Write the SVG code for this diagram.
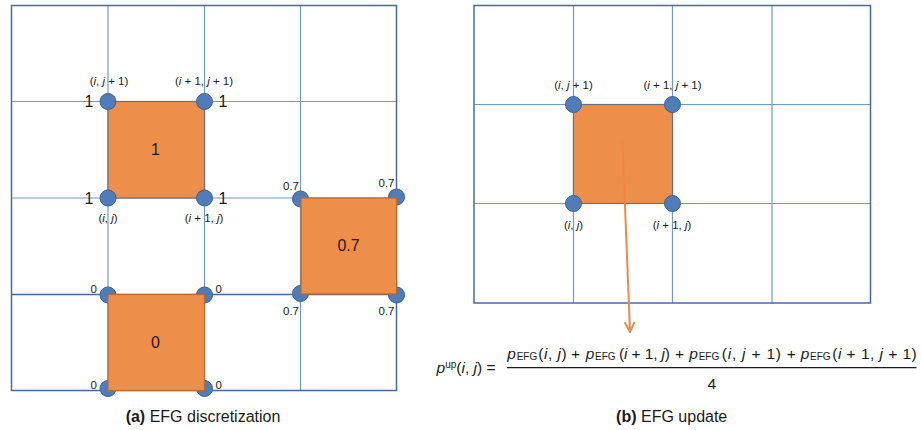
<svg xmlns="http://www.w3.org/2000/svg" width="921" height="430" viewBox="0 0 921 430">
<style>
text{font-family:"Liberation Sans",Arial,sans-serif;fill:#1a1a1a}
.g{stroke:#6f98cf;stroke-width:1.2;fill:none}
.b{stroke:#4a68a6;stroke-width:1.5;fill:none}
.sq{fill:#ed8f4b;stroke:#6e6e78;stroke-width:1.2}
.sq2{fill:#ed8f4b;stroke:#b8692e;stroke-width:1.2}
.c{fill:#4f7dba;stroke:#3b5f93;stroke-width:1}
.lb{font-size:11.5px;text-anchor:middle}
.sm{font-size:11.5px;text-anchor:middle}
.big{font-size:16px;text-anchor:middle}
.it{font-style:italic}
.cap{font-size:16px;text-anchor:middle}
.f{font-size:15.5px}
.sub{font-size:10px}
</style>
<defs>
<marker id="ah" viewBox="0 0 12 12" refX="11" refY="6" markerWidth="12" markerHeight="12" markerUnits="userSpaceOnUse" orient="auto">
<path d="M1,1 L11,6 L1,11" fill="none" stroke="#ee8a45" stroke-width="2"/>
</marker>
</defs>

<!-- Panel (a) grid -->
<g id="grid-a">
<line class="g" x1="108" y1="5.5" x2="108" y2="390.5"/>
<line class="g" x1="204.5" y1="5.5" x2="204.5" y2="390.5"/>
<line class="g" x1="300.5" y1="5.5" x2="300.5" y2="390.5"/>
<line class="g" x1="11.5" y1="101.5" x2="396.5" y2="101.5"/>
<line class="g" x1="11.5" y1="198" x2="396.5" y2="198"/>
<line class="b" x1="11.5" y1="294.5" x2="396.5" y2="294.5"/>
<rect class="b" x="11.5" y="5.5" width="385" height="385"/>
</g>

<g id="cell-1">
<rect class="sq" x="108" y="101.5" width="96.5" height="96.5"/>
<circle class="c" cx="108" cy="101.5" r="8"/>
<circle class="c" cx="204.5" cy="101.5" r="8"/>
<circle class="c" cx="108" cy="198" r="8"/>
<circle class="c" cx="204.5" cy="198" r="8"/>
<text class="big" x="155.5" y="154.5">1</text>
<text class="big" x="89" y="107">1</text>
<text class="big" x="223" y="107">1</text>
<text class="big" x="89" y="203.5">1</text>
<text class="big" x="223" y="203.5">1</text>
<text class="lb" x="109" y="85">(<tspan class="it">i</tspan>, <tspan class="it">j</tspan> + 1)</text>
<text class="lb" x="204" y="85">(<tspan class="it">i</tspan> + 1, <tspan class="it">j</tspan> + 1)</text>
<text class="lb" x="108" y="222">(<tspan class="it">i</tspan>, <tspan class="it">j</tspan>)</text>
<text class="lb" x="204" y="222">(<tspan class="it">i</tspan> + 1, <tspan class="it">j</tspan>)</text>
</g>

<g id="cell-07">
<circle class="c" cx="300.5" cy="199" r="8"/>
<circle class="c" cx="396.5" cy="197" r="8"/>
<circle class="c" cx="300.5" cy="293.5" r="8"/>
<circle class="c" cx="396.5" cy="295" r="8"/>
<rect class="sq2" x="301" y="198" width="95.5" height="96"/>
<text class="big" x="348.5" y="251">0.7</text>
<text class="sm" x="291" y="189.5">0.7</text>
<text class="sm" x="386.5" y="187">0.7</text>
<text class="sm" x="291" y="315">0.7</text>
<text class="sm" x="386.5" y="315">0.7</text>
</g>

<g id="cell-0">
<circle class="c" cx="108" cy="295" r="8"/>
<circle class="c" cx="204.5" cy="295" r="8"/>
<circle class="c" cx="108" cy="388.5" r="8"/>
<circle class="c" cx="204.5" cy="388.5" r="8"/>
<rect class="sq2" x="108" y="294.5" width="96.5" height="96"/>
<text class="big" x="155.5" y="347.5">0</text>
<text class="sm" x="93.7" y="292.7">0</text>
<text class="sm" x="218.7" y="292.7">0</text>
<text class="sm" x="93.7" y="388.5">0</text>
<text class="sm" x="218.7" y="388.5">0</text>
</g>

<text class="cap" x="203" y="421.5"><tspan font-weight="bold">(a)</tspan> EFG discretization</text>

<!-- Panel (b) grid -->
<g id="grid-b">
<line class="g" x1="573.5" y1="5.5" x2="573.5" y2="303"/>
<line class="g" x1="672.5" y1="5.5" x2="672.5" y2="303"/>
<line class="g" x1="772" y1="5.5" x2="772" y2="304"/>
<line class="g" x1="474" y1="104.5" x2="870.5" y2="104.5"/>
<line class="g" x1="474" y1="203.5" x2="870.5" y2="203.5"/>
<rect class="b" x="474" y="5.5" width="396.5" height="297.5"/>
</g>

<g id="cell-b">
<rect class="sq" x="573.5" y="104.5" width="99" height="99"/>
<circle class="c" cx="573.5" cy="104.5" r="8"/>
<circle class="c" cx="672.5" cy="104.5" r="8"/>
<circle class="c" cx="573.5" cy="203.5" r="8"/>
<circle class="c" cx="672.5" cy="203.5" r="8"/>
<text class="lb" x="573.5" y="89">(<tspan class="it">i</tspan>, <tspan class="it">j</tspan> + 1)</text>
<text class="lb" x="672.5" y="89">(<tspan class="it">i</tspan> + 1, <tspan class="it">j</tspan> + 1)</text>
<text class="lb" x="573.5" y="229">(<tspan class="it">i</tspan>, <tspan class="it">j</tspan>)</text>
<text class="lb" x="672" y="229">(<tspan class="it">i</tspan> + 1, <tspan class="it">j</tspan>)</text>
</g>

<g id="connectors">
<line x1="622.5" y1="142" x2="630" y2="332" stroke="#ee8a45" stroke-width="2" marker-end="url(#ah)"/>
</g>

<g id="formula">
<text class="f" x="436.5" y="373"><tspan class="it">p</tspan><tspan class="sub" dy="-5">up</tspan><tspan dy="5">(</tspan><tspan class="it">i</tspan>, <tspan class="it">j</tspan>) =</text>
<line x1="507" y1="367.7" x2="916.5" y2="367.7" stroke="#1a1a1a" stroke-width="1.2"/>
<text class="f it" x="507.3" y="358.5">p</text>
<text class="sub" x="516.7" y="360">EFG</text>
<text class="f" x="538.3" y="358.5" textLength="28.4" lengthAdjust="spacing">(<tspan class="it">i</tspan>, <tspan class="it">j</tspan>)</text>
<text class="f" x="571" y="358.5">+</text>
<text class="f it" x="585.7" y="358.5">p</text>
<text class="sub" x="595" y="360">EFG</text>
<text class="f" x="619" y="358.5" textLength="51" lengthAdjust="spacing">(<tspan class="it">i</tspan> + 1, <tspan class="it">j</tspan>)</text>
<text class="f" x="675" y="358.5">+</text>
<text class="f it" x="689.3" y="358.5">p</text>
<text class="sub" x="698.7" y="360">EFG</text>
<text class="f" x="721.7" y="358.5" textLength="59.3" lengthAdjust="spacing">(<tspan class="it">i</tspan>, <tspan class="it">j</tspan> + 1)</text>
<text class="f" x="786.8" y="358.5">+</text>
<text class="f it" x="800.7" y="358.5">p</text>
<text class="sub" x="810" y="360">EFG</text>
<text class="f" x="832.3" y="358.5" textLength="84.4" lengthAdjust="spacing">(<tspan class="it">i</tspan> + 1, <tspan class="it">j</tspan> + 1)</text>
<text class="f" x="711.7" y="389.3" text-anchor="middle">4</text>
</g>

<text class="cap" x="671.7" y="421.5"><tspan font-weight="bold">(b)</tspan> EFG update</text>
</svg>
